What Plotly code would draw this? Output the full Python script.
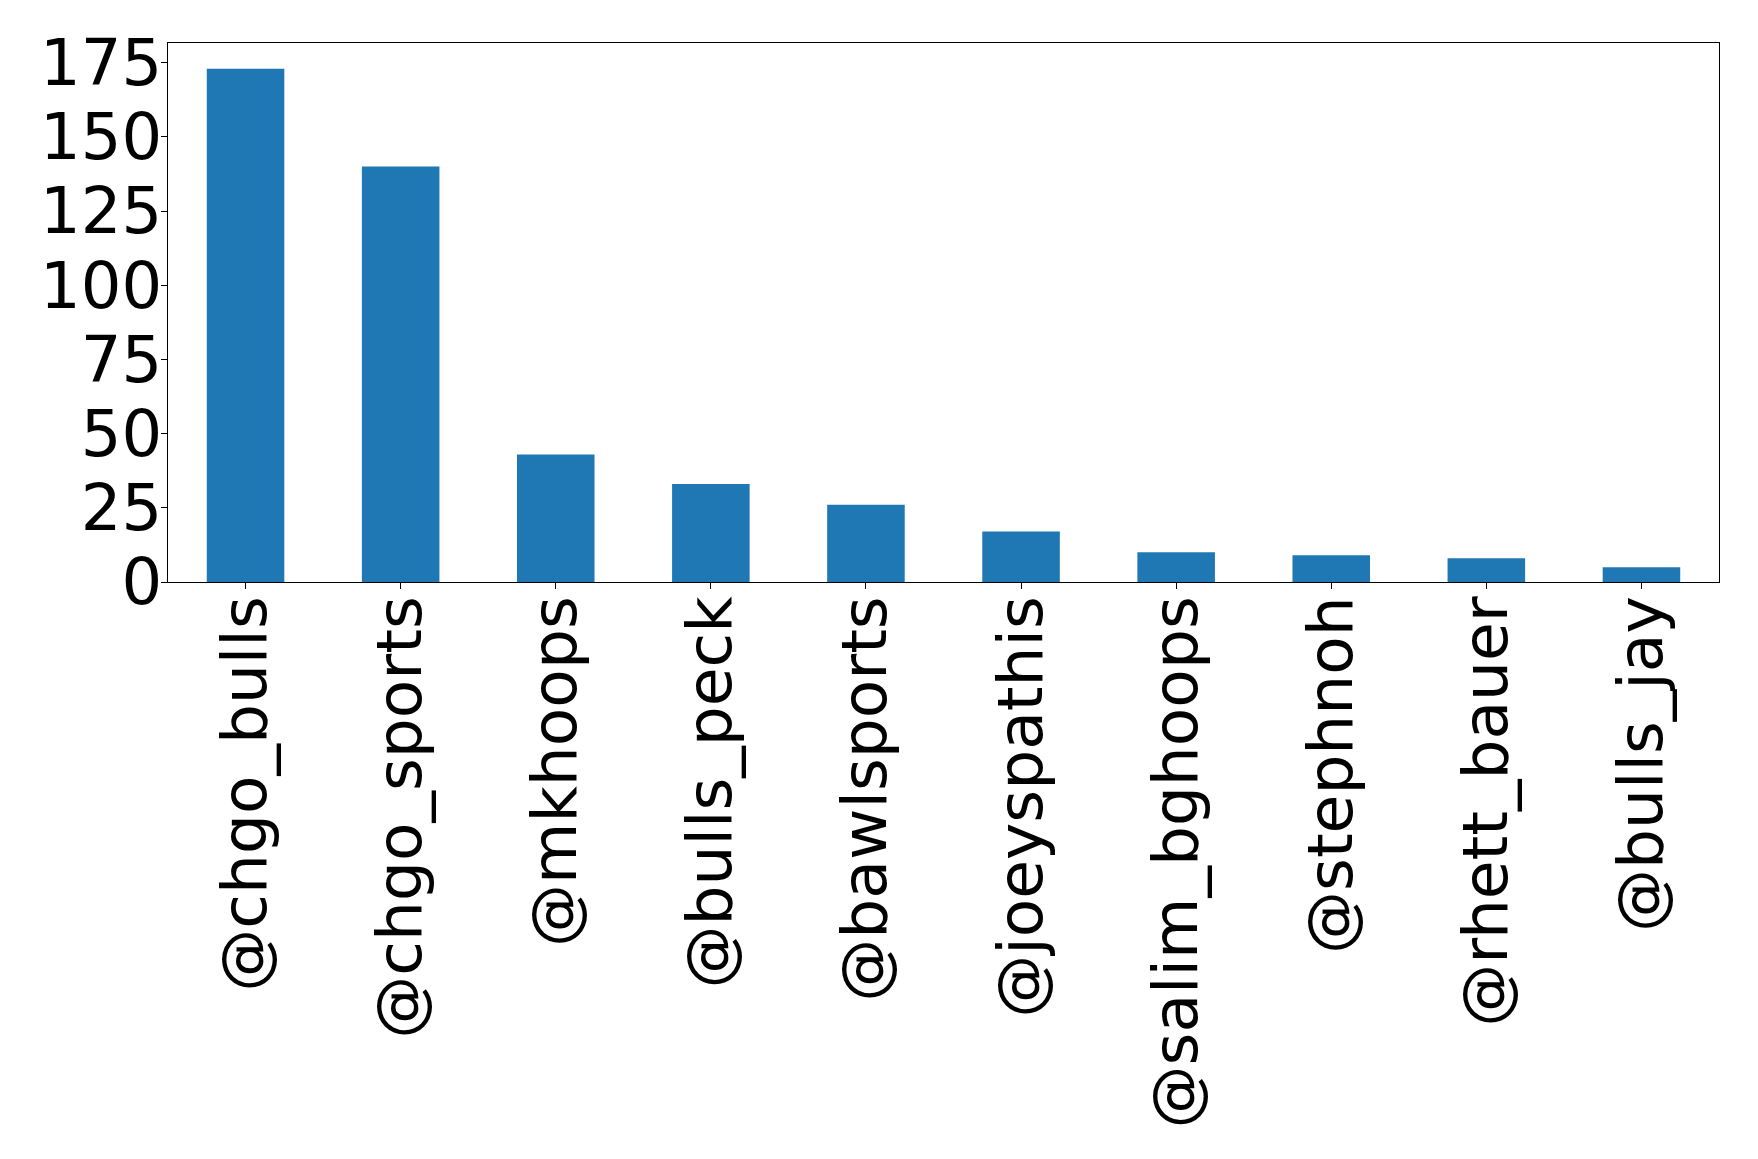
import plotly.graph_objects as go

accounts = ["@chgo_bulls", "@chgo_sports", "@mkhoops", "@bulls_peck", "@bawlsports",
            "@joeyspathis", "@salim_bghoops", "@stephnoh", "@rhett_bauer", "@bulls_jay"]
counts = [173, 140, 43, 33, 26, 17, 10, 9, 8, 5]
y_ticks = [0, 25, 50, 75, 100, 125, 150, 175]

fig = go.Figure(go.Bar(x=accounts, y=counts, width=0.5, marker=dict(color="#1f77b4", line=dict(width=0))))

fig.update_layout(
    width=1758, height=1159,
    margin=dict(l=160, r=47, t=35, b=585, autoexpand=False),
    paper_bgcolor="white", plot_bgcolor="white",
    font=dict(family="DejaVu Sans", size=63, color="black"),
    showlegend=False,
)
fig.update_xaxes(
    range=[-0.5, 9.5], tickangle=-90, showline=True, mirror=True, linecolor="black", linewidth=1.2,
    ticks="outside", ticklen=6, tickwidth=1.2, tickcolor="black", showgrid=False,
    tickfont=dict(size=63, family="DejaVu Sans"), ticklabelstandoff=-18,
)
fig.update_yaxes(
    range=[0, 181.65], tickvals=y_ticks, showline=True, mirror=True, linecolor="black", linewidth=1.2,
    ticks="outside", ticklen=6, tickwidth=1.2, tickcolor="black", showgrid=False, zeroline=False,
    tickfont=dict(size=64, family="DejaVu Sans"), ticklabelstandoff=-14,
)
fig.write_html("out.html")
